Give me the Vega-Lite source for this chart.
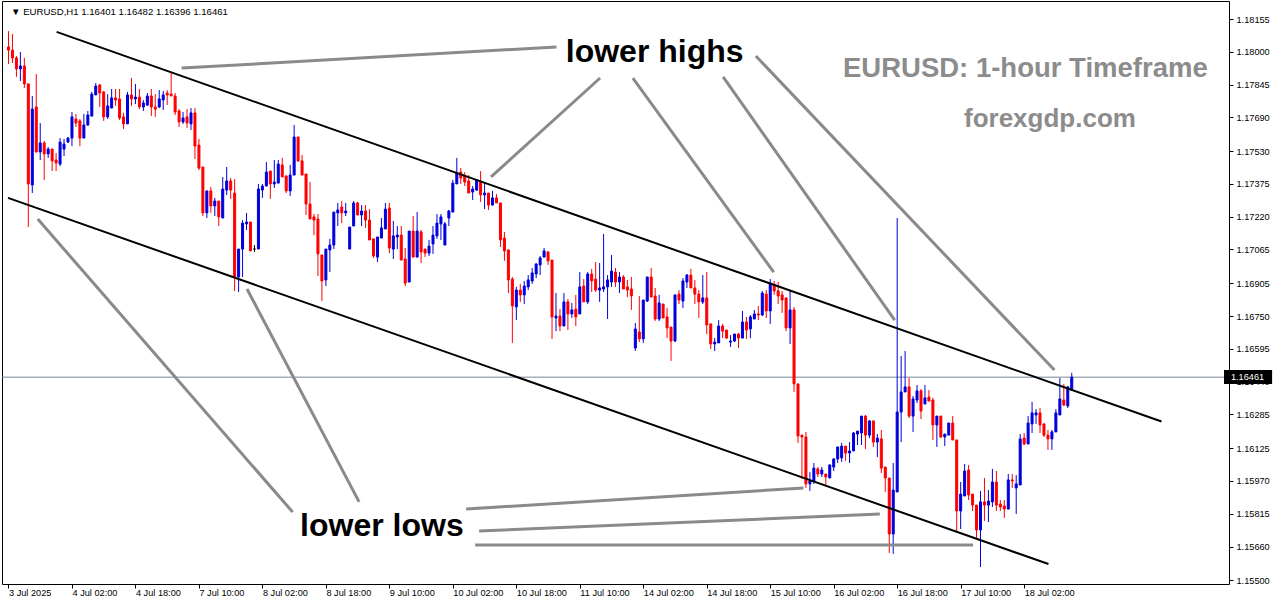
{
"$schema": "https://vega.github.io/schema/vega-lite/v6.json",
"width": 1227, "height": 583,
"autosize": {"type": "none"},
"padding": {"left": 2, "top": 1, "right": 47, "bottom": 20},
"background": "white",
"config": {"view": {"stroke": "black", "strokeWidth": 1}, "axis": {"grid": false, "domain": false, "labelFont": "Liberation Sans", "labelFontSize": 9.2, "labelColor": "black", "tickColor": "black", "labelOverlap": false, "labelFlush": false, "labelBound": false}},
"datasets": {
"candles": [
{"i":0,"o":1.18023,"h":1.18098,"l":1.17942,"c":1.18008},
{"i":1,"o":1.18008,"h":1.18084,"l":1.17947,"c":1.17971},
{"i":2,"o":1.17971,"h":1.17980,"l":1.17881,"c":1.17919},
{"i":3,"o":1.17919,"h":1.17999,"l":1.17862,"c":1.17933},
{"i":4,"o":1.17933,"h":1.17971,"l":1.17829,"c":1.17848},
{"i":5,"o":1.17848,"h":1.17850,"l":1.17171,"c":1.17375},
{"i":6,"o":1.17370,"h":1.17791,"l":1.17332,"c":1.17729},
{"i":7,"o":1.17739,"h":1.17895,"l":1.17524,"c":1.17526},
{"i":8,"o":1.17526,"h":1.17663,"l":1.17488,"c":1.17569},
{"i":9,"o":1.17569,"h":1.17578,"l":1.17394,"c":1.17517},
{"i":10,"o":1.17517,"h":1.17550,"l":1.17498,"c":1.17540},
{"i":11,"o":1.17540,"h":1.17542,"l":1.17436,"c":1.17484},
{"i":12,"o":1.17488,"h":1.17521,"l":1.17436,"c":1.17474},
{"i":13,"o":1.17469,"h":1.17592,"l":1.17460,"c":1.17573},
{"i":14,"o":1.17540,"h":1.17588,"l":1.17507,"c":1.17564},
{"i":15,"o":1.17573,"h":1.17597,"l":1.17569,"c":1.17592},
{"i":16,"o":1.17592,"h":1.17715,"l":1.17554,"c":1.17692},
{"i":17,"o":1.17682,"h":1.17706,"l":1.17644,"c":1.17663},
{"i":18,"o":1.17673,"h":1.17682,"l":1.17554,"c":1.17592},
{"i":19,"o":1.17592,"h":1.17706,"l":1.17592,"c":1.17654},
{"i":20,"o":1.17654,"h":1.17720,"l":1.17649,"c":1.17701},
{"i":21,"o":1.17696,"h":1.17810,"l":1.17696,"c":1.17800},
{"i":22,"o":1.17796,"h":1.17852,"l":1.17796,"c":1.17838},
{"i":23,"o":1.17843,"h":1.17848,"l":1.17739,"c":1.17805},
{"i":24,"o":1.17810,"h":1.17815,"l":1.17673,"c":1.17692},
{"i":25,"o":1.17692,"h":1.17800,"l":1.17682,"c":1.17744},
{"i":26,"o":1.17734,"h":1.17824,"l":1.17734,"c":1.17782},
{"i":27,"o":1.17782,"h":1.17824,"l":1.17744,"c":1.17772},
{"i":28,"o":1.17777,"h":1.17824,"l":1.17677,"c":1.17687},
{"i":29,"o":1.17692,"h":1.17711,"l":1.17635,"c":1.17659},
{"i":30,"o":1.17659,"h":1.17810,"l":1.17659,"c":1.17796},
{"i":31,"o":1.17796,"h":1.17876,"l":1.17744,"c":1.17777},
{"i":32,"o":1.17777,"h":1.17848,"l":1.17753,"c":1.17786},
{"i":33,"o":1.17786,"h":1.17824,"l":1.17729,"c":1.17739},
{"i":34,"o":1.17739,"h":1.17772,"l":1.17720,"c":1.17758},
{"i":35,"o":1.17748,"h":1.17805,"l":1.17744,"c":1.17791},
{"i":36,"o":1.17791,"h":1.17824,"l":1.17696,"c":1.17739},
{"i":37,"o":1.17739,"h":1.17800,"l":1.17692,"c":1.17729},
{"i":38,"o":1.17739,"h":1.17819,"l":1.17734,"c":1.17777},
{"i":39,"o":1.17772,"h":1.17815,"l":1.17725,"c":1.17796},
{"i":40,"o":1.17805,"h":1.17819,"l":1.17748,"c":1.17796},
{"i":41,"o":1.17800,"h":1.17904,"l":1.17791,"c":1.17791},
{"i":42,"o":1.17791,"h":1.17805,"l":1.17701,"c":1.17715},
{"i":43,"o":1.17720,"h":1.17729,"l":1.17644,"c":1.17668},
{"i":44,"o":1.17668,"h":1.17715,"l":1.17659,"c":1.17687},
{"i":45,"o":1.17692,"h":1.17729,"l":1.17640,"c":1.17663},
{"i":46,"o":1.17659,"h":1.17734,"l":1.17630,"c":1.17711},
{"i":47,"o":1.17711,"h":1.17734,"l":1.17493,"c":1.17554},
{"i":48,"o":1.17559,"h":1.17588,"l":1.17441,"c":1.17450},
{"i":49,"o":1.17455,"h":1.17455,"l":1.17223,"c":1.17238},
{"i":50,"o":1.17238,"h":1.17342,"l":1.17214,"c":1.17342},
{"i":51,"o":1.17342,"h":1.17361,"l":1.17238,"c":1.17271},
{"i":52,"o":1.17271,"h":1.17309,"l":1.17223,"c":1.17294},
{"i":53,"o":1.17294,"h":1.17294,"l":1.17176,"c":1.17219},
{"i":54,"o":1.17214,"h":1.17408,"l":1.17214,"c":1.17351},
{"i":55,"o":1.17346,"h":1.17455,"l":1.17323,"c":1.17389},
{"i":56,"o":1.17389,"h":1.17403,"l":1.17304,"c":1.17346},
{"i":57,"o":1.17332,"h":1.17398,"l":1.16869,"c":1.16935},
{"i":58,"o":1.16935,"h":1.17067,"l":1.16864,"c":1.17067},
{"i":59,"o":1.17067,"h":1.17204,"l":1.16935,"c":1.17190},
{"i":60,"o":1.17186,"h":1.17238,"l":1.17157,"c":1.17195},
{"i":61,"o":1.17195,"h":1.17195,"l":1.17058,"c":1.17058},
{"i":62,"o":1.17067,"h":1.17086,"l":1.17053,"c":1.17067},
{"i":63,"o":1.17067,"h":1.17375,"l":1.17067,"c":1.17351},
{"i":64,"o":1.17346,"h":1.17375,"l":1.17309,"c":1.17365},
{"i":65,"o":1.17365,"h":1.17479,"l":1.17365,"c":1.17431},
{"i":66,"o":1.17436,"h":1.17436,"l":1.17304,"c":1.17375},
{"i":67,"o":1.17375,"h":1.17488,"l":1.17356,"c":1.17384},
{"i":68,"o":1.17379,"h":1.17488,"l":1.17379,"c":1.17469},
{"i":69,"o":1.17465,"h":1.17498,"l":1.17408,"c":1.17408},
{"i":70,"o":1.17413,"h":1.17413,"l":1.17332,"c":1.17342},
{"i":71,"o":1.17342,"h":1.17465,"l":1.17318,"c":1.17417},
{"i":72,"o":1.17417,"h":1.17654,"l":1.17417,"c":1.17597},
{"i":73,"o":1.17597,"h":1.17597,"l":1.17479,"c":1.17484},
{"i":74,"o":1.17484,"h":1.17512,"l":1.17417,"c":1.17417},
{"i":75,"o":1.17422,"h":1.17422,"l":1.17228,"c":1.17280},
{"i":76,"o":1.17280,"h":1.17384,"l":1.17209,"c":1.17209},
{"i":77,"o":1.17219,"h":1.17233,"l":1.17133,"c":1.17204},
{"i":78,"o":1.17209,"h":1.17233,"l":1.16940,"c":1.17044},
{"i":79,"o":1.17039,"h":1.17039,"l":1.16821,"c":1.16916},
{"i":80,"o":1.16921,"h":1.17067,"l":1.16892,"c":1.17067},
{"i":81,"o":1.17063,"h":1.17115,"l":1.16958,"c":1.17086},
{"i":82,"o":1.17086,"h":1.17242,"l":1.17067,"c":1.17242},
{"i":83,"o":1.17238,"h":1.17285,"l":1.17176,"c":1.17252},
{"i":84,"o":1.17266,"h":1.17294,"l":1.17190,"c":1.17238},
{"i":85,"o":1.17238,"h":1.17285,"l":1.17223,"c":1.17247},
{"i":86,"o":1.17067,"h":1.17171,"l":1.17067,"c":1.17171},
{"i":87,"o":1.17176,"h":1.17294,"l":1.17176,"c":1.17285},
{"i":88,"o":1.17285,"h":1.17290,"l":1.17228,"c":1.17228},
{"i":89,"o":1.17228,"h":1.17275,"l":1.17176,"c":1.17247},
{"i":90,"o":1.17247,"h":1.17275,"l":1.17167,"c":1.17204},
{"i":91,"o":1.17204,"h":1.17256,"l":1.17110,"c":1.17110},
{"i":92,"o":1.17115,"h":1.17115,"l":1.17025,"c":1.17034},
{"i":93,"o":1.17029,"h":1.17124,"l":1.17006,"c":1.17124},
{"i":94,"o":1.17119,"h":1.17214,"l":1.17119,"c":1.17167},
{"i":95,"o":1.17162,"h":1.17285,"l":1.17162,"c":1.17256},
{"i":96,"o":1.17261,"h":1.17285,"l":1.17048,"c":1.17072},
{"i":97,"o":1.17067,"h":1.17200,"l":1.17020,"c":1.17129},
{"i":98,"o":1.17124,"h":1.17176,"l":1.17067,"c":1.17133},
{"i":99,"o":1.17133,"h":1.17176,"l":1.17015,"c":1.17015},
{"i":100,"o":1.17020,"h":1.17072,"l":1.16892,"c":1.16906},
{"i":101,"o":1.16911,"h":1.17152,"l":1.16911,"c":1.17152},
{"i":102,"o":1.17152,"h":1.17223,"l":1.17029,"c":1.17029},
{"i":103,"o":1.17029,"h":1.17242,"l":1.17029,"c":1.17152},
{"i":104,"o":1.17148,"h":1.17157,"l":1.17001,"c":1.17053},
{"i":105,"o":1.17067,"h":1.17067,"l":1.17029,"c":1.17048},
{"i":106,"o":1.17048,"h":1.17110,"l":1.17034,"c":1.17081},
{"i":107,"o":1.17091,"h":1.17176,"l":1.17044,"c":1.17133},
{"i":108,"o":1.17129,"h":1.17233,"l":1.17115,"c":1.17190},
{"i":109,"o":1.17186,"h":1.17233,"l":1.17110,"c":1.17219},
{"i":110,"o":1.17086,"h":1.17195,"l":1.17086,"c":1.17186},
{"i":111,"o":1.17214,"h":1.17252,"l":1.17176,"c":1.17247},
{"i":112,"o":1.17242,"h":1.17394,"l":1.17242,"c":1.17379},
{"i":113,"o":1.17375,"h":1.17498,"l":1.17375,"c":1.17427},
{"i":114,"o":1.17431,"h":1.17450,"l":1.17375,"c":1.17403},
{"i":115,"o":1.17413,"h":1.17431,"l":1.17365,"c":1.17384},
{"i":116,"o":1.17389,"h":1.17417,"l":1.17332,"c":1.17332},
{"i":117,"o":1.17337,"h":1.17365,"l":1.17299,"c":1.17351},
{"i":118,"o":1.17346,"h":1.17398,"l":1.17342,"c":1.17394},
{"i":119,"o":1.17384,"h":1.17436,"l":1.17290,"c":1.17323},
{"i":120,"o":1.17323,"h":1.17384,"l":1.17256,"c":1.17332},
{"i":121,"o":1.17332,"h":1.17332,"l":1.17252,"c":1.17275},
{"i":122,"o":1.17275,"h":1.17342,"l":1.17275,"c":1.17309},
{"i":123,"o":1.17309,"h":1.17327,"l":1.17285,"c":1.17285},
{"i":124,"o":1.17285,"h":1.17285,"l":1.17077,"c":1.17110},
{"i":125,"o":1.17119,"h":1.17148,"l":1.17011,"c":1.17058},
{"i":126,"o":1.17063,"h":1.17063,"l":1.16859,"c":1.16921},
{"i":127,"o":1.16925,"h":1.16935,"l":1.16623,"c":1.16798},
{"i":128,"o":1.16793,"h":1.16888,"l":1.16731,"c":1.16873},
{"i":129,"o":1.16873,"h":1.16902,"l":1.16817,"c":1.16850},
{"i":130,"o":1.16850,"h":1.16916,"l":1.16807,"c":1.16892},
{"i":131,"o":1.16888,"h":1.16944,"l":1.16873,"c":1.16921},
{"i":132,"o":1.16916,"h":1.16977,"l":1.16902,"c":1.16954},
{"i":133,"o":1.16949,"h":1.17001,"l":1.16930,"c":1.16996},
{"i":134,"o":1.16992,"h":1.17034,"l":1.16944,"c":1.17025},
{"i":135,"o":1.17029,"h":1.17072,"l":1.17029,"c":1.17058},
{"i":136,"o":1.17053,"h":1.17058,"l":1.16992,"c":1.17011},
{"i":137,"o":1.17015,"h":1.17015,"l":1.16642,"c":1.16746},
{"i":138,"o":1.16741,"h":1.16859,"l":1.16679,"c":1.16750},
{"i":139,"o":1.16750,"h":1.16783,"l":1.16679,"c":1.16703},
{"i":140,"o":1.16703,"h":1.16859,"l":1.16703,"c":1.16817},
{"i":141,"o":1.16817,"h":1.16831,"l":1.16684,"c":1.16760},
{"i":142,"o":1.16760,"h":1.16812,"l":1.16741,"c":1.16779},
{"i":143,"o":1.16783,"h":1.16850,"l":1.16703,"c":1.16746},
{"i":144,"o":1.16760,"h":1.16958,"l":1.16760,"c":1.16888},
{"i":145,"o":1.16892,"h":1.16925,"l":1.16817,"c":1.16817},
{"i":146,"o":1.16817,"h":1.16958,"l":1.16807,"c":1.16949},
{"i":147,"o":1.16949,"h":1.16973,"l":1.16864,"c":1.16916},
{"i":148,"o":1.16925,"h":1.17006,"l":1.16864,"c":1.16873},
{"i":149,"o":1.16873,"h":1.17001,"l":1.16817,"c":1.16883},
{"i":150,"o":1.16878,"h":1.17138,"l":1.16864,"c":1.16888},
{"i":151,"o":1.16888,"h":1.16944,"l":1.16736,"c":1.16921},
{"i":152,"o":1.16911,"h":1.17039,"l":1.16888,"c":1.16963},
{"i":153,"o":1.16958,"h":1.16977,"l":1.16888,"c":1.16911},
{"i":154,"o":1.16911,"h":1.16958,"l":1.16859,"c":1.16935},
{"i":155,"o":1.16935,"h":1.16944,"l":1.16878,"c":1.16878},
{"i":156,"o":1.16888,"h":1.16921,"l":1.16840,"c":1.16873},
{"i":157,"o":1.16878,"h":1.16935,"l":1.16779,"c":1.16845},
{"i":158,"o":1.16599,"h":1.16717,"l":1.16585,"c":1.16689},
{"i":159,"o":1.16675,"h":1.16845,"l":1.16627,"c":1.16642},
{"i":160,"o":1.16642,"h":1.16826,"l":1.16623,"c":1.16826},
{"i":161,"o":1.16821,"h":1.16935,"l":1.16817,"c":1.16935},
{"i":162,"o":1.16935,"h":1.16977,"l":1.16840,"c":1.16840},
{"i":163,"o":1.16845,"h":1.16883,"l":1.16727,"c":1.16736},
{"i":164,"o":1.16736,"h":1.16850,"l":1.16727,"c":1.16812},
{"i":165,"o":1.16807,"h":1.16807,"l":1.16741,"c":1.16741},
{"i":166,"o":1.16746,"h":1.16788,"l":1.16646,"c":1.16694},
{"i":167,"o":1.16698,"h":1.16698,"l":1.16538,"c":1.16632},
{"i":168,"o":1.16632,"h":1.16850,"l":1.16627,"c":1.16850},
{"i":169,"o":1.16854,"h":1.16873,"l":1.16807,"c":1.16826},
{"i":170,"o":1.16821,"h":1.16930,"l":1.16788,"c":1.16916},
{"i":171,"o":1.16911,"h":1.16949,"l":1.16883,"c":1.16944},
{"i":172,"o":1.16944,"h":1.16973,"l":1.16883,"c":1.16883},
{"i":173,"o":1.16883,"h":1.16921,"l":1.16807,"c":1.16854},
{"i":174,"o":1.16854,"h":1.16873,"l":1.16741,"c":1.16817},
{"i":175,"o":1.16817,"h":1.16944,"l":1.16807,"c":1.16836},
{"i":176,"o":1.16836,"h":1.16958,"l":1.16665,"c":1.16708},
{"i":177,"o":1.16713,"h":1.16713,"l":1.16594,"c":1.16618},
{"i":178,"o":1.16618,"h":1.16646,"l":1.16585,"c":1.16627},
{"i":179,"o":1.16623,"h":1.16731,"l":1.16623,"c":1.16703},
{"i":180,"o":1.16703,"h":1.16713,"l":1.16646,"c":1.16679},
{"i":181,"o":1.16684,"h":1.16684,"l":1.16642,"c":1.16646},
{"i":182,"o":1.16627,"h":1.16660,"l":1.16604,"c":1.16632},
{"i":183,"o":1.16632,"h":1.16665,"l":1.16627,"c":1.16665},
{"i":184,"o":1.16665,"h":1.16670,"l":1.16599,"c":1.16646},
{"i":185,"o":1.16646,"h":1.16774,"l":1.16646,"c":1.16722},
{"i":186,"o":1.16722,"h":1.16746,"l":1.16642,"c":1.16684},
{"i":187,"o":1.16689,"h":1.16755,"l":1.16646,"c":1.16746},
{"i":188,"o":1.16736,"h":1.16779,"l":1.16736,"c":1.16760},
{"i":189,"o":1.16760,"h":1.16798,"l":1.16731,"c":1.16755},
{"i":190,"o":1.16755,"h":1.16869,"l":1.16750,"c":1.16859},
{"i":191,"o":1.16854,"h":1.16873,"l":1.16741,"c":1.16774},
{"i":192,"o":1.16774,"h":1.16925,"l":1.16713,"c":1.16906},
{"i":193,"o":1.16897,"h":1.16916,"l":1.16850,"c":1.16869},
{"i":194,"o":1.16869,"h":1.16911,"l":1.16807,"c":1.16845},
{"i":195,"o":1.16850,"h":1.16869,"l":1.16765,"c":1.16826},
{"i":196,"o":1.16836,"h":1.16836,"l":1.16679,"c":1.16694},
{"i":197,"o":1.16694,"h":1.16873,"l":1.16618,"c":1.16779},
{"i":198,"o":1.16779,"h":1.16793,"l":1.16391,"c":1.16429},
{"i":199,"o":1.16429,"h":1.16429,"l":1.16150,"c":1.16183},
{"i":200,"o":1.16187,"h":1.16187,"l":1.15979,"c":1.16178},
{"i":201,"o":1.16178,"h":1.16202,"l":1.15937,"c":1.15956},
{"i":202,"o":1.15956,"h":1.16012,"l":1.15923,"c":1.15970},
{"i":203,"o":1.15970,"h":1.16055,"l":1.15956,"c":1.16031},
{"i":204,"o":1.16027,"h":1.16036,"l":1.15989,"c":1.16003},
{"i":205,"o":1.16003,"h":1.16036,"l":1.15989,"c":1.16022},
{"i":206,"o":1.16003,"h":1.16003,"l":1.15946,"c":1.15989},
{"i":207,"o":1.15984,"h":1.16046,"l":1.15984,"c":1.16046},
{"i":208,"o":1.16036,"h":1.16079,"l":1.16017,"c":1.16074},
{"i":209,"o":1.16074,"h":1.16131,"l":1.16055,"c":1.16131},
{"i":210,"o":1.16079,"h":1.16150,"l":1.16060,"c":1.16135},
{"i":211,"o":1.16135,"h":1.16135,"l":1.16065,"c":1.16102},
{"i":212,"o":1.16102,"h":1.16154,"l":1.16055,"c":1.16112},
{"i":213,"o":1.16112,"h":1.16202,"l":1.16112,"c":1.16197},
{"i":214,"o":1.16192,"h":1.16206,"l":1.16140,"c":1.16206},
{"i":215,"o":1.16197,"h":1.16277,"l":1.16140,"c":1.16277},
{"i":216,"o":1.16277,"h":1.16282,"l":1.16121,"c":1.16187},
{"i":217,"o":1.16187,"h":1.16258,"l":1.16173,"c":1.16254},
{"i":218,"o":1.16254,"h":1.16254,"l":1.16131,"c":1.16154},
{"i":219,"o":1.16154,"h":1.16192,"l":1.16083,"c":1.16173},
{"i":220,"o":1.16169,"h":1.16211,"l":1.16008,"c":1.16031},
{"i":221,"o":1.16036,"h":1.16036,"l":1.15918,"c":1.15984},
{"i":222,"o":1.15984,"h":1.15984,"l":1.15629,"c":1.15719},
{"i":223,"o":1.15719,"h":1.16055,"l":1.15625,"c":1.15927},
{"i":224,"o":1.15918,"h":1.17214,"l":1.15918,"c":1.16296},
{"i":225,"o":1.16296,"h":1.16561,"l":1.16154,"c":1.16391},
{"i":226,"o":1.16391,"h":1.16585,"l":1.16391,"c":1.16415},
{"i":227,"o":1.16415,"h":1.16457,"l":1.16268,"c":1.16277},
{"i":228,"o":1.16277,"h":1.16372,"l":1.16202,"c":1.16358},
{"i":229,"o":1.16353,"h":1.16424,"l":1.16339,"c":1.16396},
{"i":230,"o":1.16396,"h":1.16405,"l":1.16263,"c":1.16301},
{"i":231,"o":1.16334,"h":1.16424,"l":1.16334,"c":1.16363},
{"i":232,"o":1.16367,"h":1.16400,"l":1.16348,"c":1.16348},
{"i":233,"o":1.16353,"h":1.16363,"l":1.16164,"c":1.16235},
{"i":234,"o":1.16235,"h":1.16277,"l":1.16131,"c":1.16277},
{"i":235,"o":1.16277,"h":1.16277,"l":1.16173,"c":1.16178},
{"i":236,"o":1.16178,"h":1.16192,"l":1.16135,"c":1.16192},
{"i":237,"o":1.16187,"h":1.16244,"l":1.16187,"c":1.16244},
{"i":238,"o":1.16244,"h":1.16277,"l":1.16164,"c":1.16164},
{"i":239,"o":1.16164,"h":1.16164,"l":1.15733,"c":1.15828},
{"i":240,"o":1.15828,"h":1.15965,"l":1.15743,"c":1.15908},
{"i":241,"o":1.15899,"h":1.16050,"l":1.15899,"c":1.16017},
{"i":242,"o":1.16022,"h":1.16046,"l":1.15880,"c":1.15904},
{"i":243,"o":1.15908,"h":1.15908,"l":1.15828,"c":1.15856},
{"i":244,"o":1.15856,"h":1.15856,"l":1.15700,"c":1.15738},
{"i":245,"o":1.15738,"h":1.15923,"l":1.15563,"c":1.15871},
{"i":246,"o":1.15871,"h":1.15984,"l":1.15781,"c":1.15856},
{"i":247,"o":1.15856,"h":1.15927,"l":1.15776,"c":1.15875},
{"i":248,"o":1.15871,"h":1.16027,"l":1.15847,"c":1.15965},
{"i":249,"o":1.15965,"h":1.16017,"l":1.15828,"c":1.15856},
{"i":250,"o":1.15861,"h":1.15880,"l":1.15828,"c":1.15847},
{"i":251,"o":1.15852,"h":1.15880,"l":1.15795,"c":1.15837},
{"i":252,"o":1.15837,"h":1.16003,"l":1.15837,"c":1.15975},
{"i":253,"o":1.15975,"h":1.16003,"l":1.15937,"c":1.15970},
{"i":254,"o":1.15937,"h":1.15998,"l":1.15814,"c":1.15956},
{"i":255,"o":1.15951,"h":1.16192,"l":1.15951,"c":1.16169},
{"i":256,"o":1.16173,"h":1.16197,"l":1.16140,"c":1.16145},
{"i":257,"o":1.16145,"h":1.16277,"l":1.16145,"c":1.16244},
{"i":258,"o":1.16240,"h":1.16344,"l":1.16197,"c":1.16292},
{"i":259,"o":1.16282,"h":1.16310,"l":1.16240,"c":1.16292},
{"i":260,"o":1.16292,"h":1.16315,"l":1.16197,"c":1.16235},
{"i":261,"o":1.16240,"h":1.16240,"l":1.16178,"c":1.16187},
{"i":262,"o":1.16187,"h":1.16211,"l":1.16117,"c":1.16169},
{"i":263,"o":1.16169,"h":1.16211,"l":1.16117,"c":1.16202},
{"i":264,"o":1.16202,"h":1.16310,"l":1.16202,"c":1.16292},
{"i":265,"o":1.16282,"h":1.16457,"l":1.16282,"c":1.16358},
{"i":266,"o":1.16353,"h":1.16429,"l":1.16325,"c":1.16329},
{"i":267,"o":1.16325,"h":1.16419,"l":1.16315,"c":1.16415},
{"i":268,"o":1.16401,"h":1.16482,"l":1.16396,"c":1.16461}
],
"channel": [
{"x":12.125,"y":1.18094,"x2":290.625,"y2":1.16251},
{"x":-0.125,"y":1.17309,"x2":262.125,"y2":1.15577}
],
"notes": [
{"x":43.625,"y":1.17923,"x2":138.125,"y2":1.18023},
{"x":149.125,"y":1.17876,"x2":121.625,"y2":1.17408},
{"x":157.375,"y":1.17876,"x2":192.875,"y2":1.16958},
{"x":180.125,"y":1.17881,"x2":223.375,"y2":1.16731},
{"x":188.375,"y":1.17980,"x2":263.625,"y2":1.16495},
{"x":88.375,"y":1.15871,"x2":60.125,"y2":1.16878},
{"x":71.625,"y":1.15823,"x2":7.375,"y2":1.17209},
{"x":115.375,"y":1.15837,"x2":200.375,"y2":1.15937},
{"x":118.625,"y":1.15733,"x2":219.625,"y2":1.15814},
{"x":117.625,"y":1.15667,"x2":243.125,"y2":1.15667}
]
},
"layer": [
{
"data": {"name": "candles"},
"mark": {"type": "rule", "strokeWidth": 1, "opacity": 0},
"encoding": {
"x": {"field": "i", "type": "quantitative", "title": null, "scale": {"domain": [-0.375, 306.375], "nice": false, "zero": false},
 "axis": {"values": [0,16,32,48,64,80,96,112,128,144,160,176,192,208,224,240,256], "tickCount": 60, "labelExpr": "['3 Jul 2025','4 Jul 02:00','4 Jul 18:00','7 Jul 10:00','8 Jul 02:00','8 Jul 18:00','9 Jul 10:00','10 Jul 02:00','10 Jul 18:00','11 Jul 10:00','14 Jul 02:00','14 Jul 18:00','15 Jul 10:00','16 Jul 02:00','16 Jul 18:00','17 Jul 10:00','18 Jul 02:00'][round(datum.value/16)]", "labelAlign": "left", "labelBaseline": "top", "labelPadding": 0, "tickSize": 4, "labelFlush": false, "labelOverlap": false}},
"y": {"field": "l", "type": "quantitative", "title": null, "scale": {"domain": [1.1548268, 1.1824027], "nice": false, "zero": false},
 "axis": {"orient": "right", "values": [1.155, 1.1566, 1.15815, 1.1597, 1.16125, 1.16285, 1.1644, 1.16595, 1.1675, 1.16905, 1.17065, 1.1722, 1.17375, 1.1753, 1.1769, 1.17845, 1.18, 1.18155], "tickCount": 60, "format": ".5f", "tickSize": 4, "labelPadding": 3, "labelFlush": false, "labelOverlap": false}},
"y2": {"field": "h"}
}
},
{
"data": {"values": [{"p": 1.16461}]},
"mark": {"type": "rule", "color": "#778899", "strokeWidth": 1},
"encoding": {"y": {"field": "p", "type": "quantitative", "title": null, "scale": {"domain": [1.1548268, 1.1824027], "nice": false, "zero": false}}}
},
{
"data": {"name": "candles"},
"mark": {"type": "rule", "strokeWidth": 1},
"encoding": {
"x": {"field": "i", "type": "quantitative", "title": null, "scale": {"domain": [-0.375, 306.375], "nice": false, "zero": false}},
"y": {"field": "l", "type": "quantitative", "title": null, "scale": {"domain": [1.1548268, 1.1824027], "nice": false, "zero": false}},
"y2": {"field": "h"},
"color": {"condition": [{"test": "datum.c > datum.o", "value": "#0000dd"}, {"test": "datum.c < datum.o", "value": "#ff0000"}], "value": "#000000"}
}
},
{
"data": {"name": "candles"},
"mark": {"type": "bar", "size": 2, "strokeWidth": 1},
"encoding": {
"x": {"field": "i", "type": "quantitative", "title": null, "scale": {"domain": [-0.375, 306.375], "nice": false, "zero": false}},
"y": {"field": "o", "type": "quantitative", "title": null, "scale": {"domain": [1.1548268, 1.1824027], "nice": false, "zero": false}},
"y2": {"field": "c"},
"fill": {"condition": [{"test": "datum.c > datum.o", "value": "#0000dd"}, {"test": "datum.c < datum.o", "value": "#ff0000"}], "value": "#000000"},
"stroke": {"condition": [{"test": "datum.c > datum.o", "value": "#0000dd"}, {"test": "datum.c < datum.o", "value": "#ff0000"}], "value": "#000000"}
}
},
{
"data": {"name": "channel"},
"mark": {"type": "rule", "color": "black", "strokeWidth": 2},
"encoding": {
"x": {"field": "x", "type": "quantitative", "title": null, "scale": {"domain": [-0.375, 306.375], "nice": false, "zero": false}},
"y": {"field": "y", "type": "quantitative", "title": null, "scale": {"domain": [1.1548268, 1.1824027], "nice": false, "zero": false}},
"x2": {"field": "x2"}, "y2": {"field": "y2"}
}
},
{
"data": {"name": "notes"},
"mark": {"type": "rule", "color": "#8a8a8a", "strokeWidth": 3},
"encoding": {
"x": {"field": "x", "type": "quantitative", "title": null, "scale": {"domain": [-0.375, 306.375], "nice": false, "zero": false}},
"y": {"field": "y", "type": "quantitative", "title": null, "scale": {"domain": [1.1548268, 1.1824027], "nice": false, "zero": false}},
"x2": {"field": "x2"}, "y2": {"field": "y2"}
}
},
{
"data": {"values": [{"x": 162.875, "y": 1.17952, "t": "lower highs"}, {"x": 94.125, "y": 1.15710, "t": "lower lows"}]},
"mark": {"type": "text", "font": "Liberation Sans", "fontWeight": "bold", "fontSize": 32, "color": "black", "align": "center", "baseline": "alphabetic"},
"encoding": {
"x": {"field": "x", "type": "quantitative", "title": null, "scale": {"domain": [-0.375, 306.375], "nice": false, "zero": false}},
"y": {"field": "y", "type": "quantitative", "title": null, "scale": {"domain": [1.1548268, 1.1824027], "nice": false, "zero": false}},
"text": {"field": "t"}
}
},
{
"data": {"values": [{"x": 256.3, "y": 1.17881, "t": "EURUSD: 1-hour Timeframe"}]},
"mark": {"type": "text", "font": "Liberation Sans", "fontWeight": "bold", "fontSize": 27.5, "color": "#8c8c8c", "align": "center", "baseline": "alphabetic"},
"encoding": {
"x": {"field": "x", "type": "quantitative", "title": null, "scale": {"domain": [-0.375, 306.375], "nice": false, "zero": false}},
"y": {"field": "y", "type": "quantitative", "title": null, "scale": {"domain": [1.1548268, 1.1824027], "nice": false, "zero": false}},
"text": {"field": "t"}
}
},
{
"data": {"values": [{"x": 262.5, "y": 1.17644, "t": "forexgdp.com"}]},
"mark": {"type": "text", "font": "Liberation Sans", "fontWeight": "bold", "fontSize": 26, "color": "#8c8c8c", "align": "center", "baseline": "alphabetic"},
"encoding": {
"x": {"field": "x", "type": "quantitative", "title": null, "scale": {"domain": [-0.375, 306.375], "nice": false, "zero": false}},
"y": {"field": "y", "type": "quantitative", "title": null, "scale": {"domain": [1.1548268, 1.1824027], "nice": false, "zero": false}},
"text": {"field": "t"}
}
},
{
"data": {"values": [{"x": 0.625, "y": 1.18172, "t": "▼ EURUSD,H1  1.16401 1.16482 1.16396 1.16461"}]},
"mark": {"type": "text", "font": "Liberation Sans", "fontSize": 9.6, "color": "black", "align": "left", "baseline": "alphabetic"},
"encoding": {
"x": {"field": "x", "type": "quantitative", "title": null, "scale": {"domain": [-0.375, 306.375], "nice": false, "zero": false}},
"y": {"field": "y", "type": "quantitative", "title": null, "scale": {"domain": [1.1548268, 1.1824027], "nice": false, "zero": false}},
"text": {"field": "t"}
}
},
{
"data": {"values": [{"x": 306.375, "x2": 318.5, "y": 1.16495, "y2": 1.16429}]},
"mark": {"type": "rect", "color": "black"},
"encoding": {
"x": {"field": "x", "type": "quantitative", "title": null, "scale": {"domain": [-0.375, 306.375], "nice": false, "zero": false}},
"y": {"field": "y", "type": "quantitative", "title": null, "scale": {"domain": [1.1548268, 1.1824027], "nice": false, "zero": false}},
"x2": {"field": "x2"}, "y2": {"field": "y2"}
}
},
{
"data": {"values": [{"x": 308.125, "y": 1.16461, "t": "1.16461"}]},
"mark": {"type": "text", "font": "Liberation Sans", "fontSize": 9.2, "color": "white", "align": "left", "baseline": "middle"},
"encoding": {
"x": {"field": "x", "type": "quantitative", "title": null, "scale": {"domain": [-0.375, 306.375], "nice": false, "zero": false}},
"y": {"field": "y", "type": "quantitative", "title": null, "scale": {"domain": [1.1548268, 1.1824027], "nice": false, "zero": false}},
"text": {"field": "t"}
}
}
]
}
